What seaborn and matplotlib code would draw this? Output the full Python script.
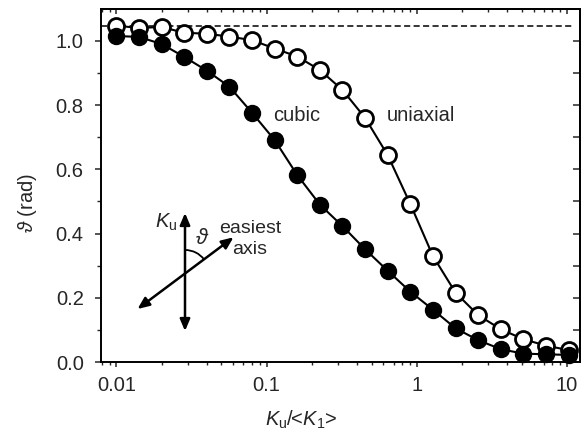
import numpy as np
import pandas as pd
import matplotlib
matplotlib.use("Agg")
import matplotlib.pyplot as plt
import matplotlib.ticker as mticker
from matplotlib.patches import Arc
from matplotlib.transforms import IdentityTransform
import seaborn as sns

# ---- data ----
ratio = [0.01, 0.01414, 0.02, 0.02828, 0.04, 0.05657, 0.08, 0.1131, 0.16, 0.2263,
         0.32, 0.4525, 0.64, 0.9051, 1.28, 1.810, 2.56, 3.620, 5.12, 7.241, 10.24]
cubic = [1.015, 1.012, 0.990, 0.950, 0.907, 0.857, 0.776, 0.691, 0.582, 0.490,
         0.423, 0.351, 0.284, 0.219, 0.163, 0.105, 0.068, 0.040, 0.026, 0.024, 0.022]
uniaxial = [1.047, 1.040, 1.043, 1.025, 1.022, 1.013, 1.002, 0.976, 0.951, 0.909,
            0.847, 0.760, 0.644, 0.492, 0.330, 0.216, 0.146, 0.102, 0.071, 0.051, 0.037]
limit_level = 1.047
limit_span = [0.0079, 11.0]
x_ticks = [0.01, 0.1, 1, 10]
x_tick_labels = ["0.01", "0.1", "1", "10"]
y_ticks = [0.0, 0.2, 0.4, 0.6, 0.8, 1.0]
y_tick_labels = ["0.0", "0.2", "0.4", "0.6", "0.8", "1.0"]

df_c = pd.DataFrame({"x": ratio, "y": cubic})
df_u = pd.DataFrame({"x": ratio, "y": uniaxial})
df_l = pd.DataFrame({"x": limit_span, "y": [limit_level] * 2})

sns.set_style("ticks")
plt.rcParams["font.family"] = ["Liberation Sans", "DejaVu Sans"]
plt.rcParams["mathtext.fontset"] = "custom"
plt.rcParams["mathtext.rm"] = "Liberation Sans"
plt.rcParams["mathtext.it"] = "Liberation Sans:italic"
plt.rcParams["mathtext.fallback"] = "stixsans"

fig = plt.figure(figsize=(5.88, 4.36), dpi=100)
ax = fig.add_axes([101 / 588, 74 / 436, 479 / 588, 353 / 436])

FS = 14.5
ms = 11.5

sns.lineplot(data=df_l, x="x", y="y", ax=ax, color="black", lw=1.1,
             dashes=False, linestyle=(0, (4, 2.2)), zorder=1)
sns.lineplot(data=df_u, x="x", y="y", ax=ax, color="black", lw=1.5,
             marker="o", markersize=ms, markerfacecolor="white",
             markeredgecolor="black", markeredgewidth=2.0, zorder=3, clip_on=False)
sns.lineplot(data=df_c, x="x", y="y", ax=ax, color="black", lw=1.5,
             marker="o", markersize=ms, markerfacecolor="black",
             markeredgecolor="black", markeredgewidth=1.0, zorder=4, clip_on=False)

ax.set_xscale("log")
ax.set_xlim(0.0079, 12.2)
ax.set_ylim(0.0, 1.099)

ax.xaxis.set_major_locator(mticker.FixedLocator(x_ticks))
ax.xaxis.set_major_formatter(mticker.FixedFormatter(x_tick_labels))
ax.xaxis.set_minor_locator(mticker.LogLocator(base=10, subs=np.arange(2, 10) * 1.0, numticks=20))
ax.xaxis.set_minor_formatter(mticker.NullFormatter())
ax.yaxis.set_major_locator(mticker.FixedLocator(y_ticks))
ax.yaxis.set_major_formatter(mticker.FixedFormatter(y_tick_labels))
ax.yaxis.set_minor_locator(mticker.MultipleLocator(0.1))

for s in ax.spines.values():
    s.set_visible(True)
    s.set_linewidth(1.4)
    s.set_color("black")

ax.tick_params(axis="x", which="major", direction="out", length=3.5, width=1.1,
               pad=6.5, labelsize=FS, top=False)
ax.tick_params(axis="x", which="minor", direction="out", length=2.5, width=1.0, top=False)
ax.tick_params(axis="y", which="major", direction="out", length=4.5, width=1.1,
               pad=8, labelsize=FS, right=False)
ax.tick_params(axis="y", which="minor", direction="out", length=3.0, width=1.0, right=False)

# mirrored inward ticks on top and right
sec_x = ax.secondary_xaxis("top")
sec_x.xaxis.set_major_locator(mticker.FixedLocator(x_ticks))
sec_x.xaxis.set_minor_locator(mticker.LogLocator(base=10, subs=np.arange(2, 10) * 1.0, numticks=20))
sec_x.tick_params(which="major", direction="in", length=3.5, width=1.1, labeltop=False)
sec_x.tick_params(which="minor", direction="in", length=2.2, width=1.0)
sec_x.spines["top"].set_linewidth(1.4)

sec_y = ax.secondary_yaxis("right")
sec_y.yaxis.set_major_locator(mticker.FixedLocator(y_ticks))
sec_y.yaxis.set_minor_locator(mticker.MultipleLocator(0.1))
sec_y.tick_params(which="major", direction="in", length=5, width=1.1, labelright=False)
sec_y.tick_params(which="minor", direction="in", length=5, width=1.1)
sec_y.spines["right"].set_linewidth(1.4)

ax.set_xlabel(r"$K_\mathrm{u}$/<$K_\mathrm{1}$>", fontsize=FS)
ax.set_ylabel(r"$\vartheta$ (rad)", fontsize=FS)
ax.xaxis.set_label_coords(0.4175, -0.133)
ax.yaxis.set_label_coords(-0.13, 0.449)

# series labels
fig.text(273, 321, "cubic", transform=IdentityTransform(), fontsize=FS, va="center", ha="left")
fig.text(387, 321, "uniaxial", transform=IdentityTransform(), fontsize=FS, va="center", ha="left")

# inset sketch (figure pixel coordinates)
arrow = dict(arrowstyle="<|-|>,head_length=0.7,head_width=0.3", color="black", lw=1.8,
             shrinkA=0, shrinkB=0)
ax.annotate("", xy=(185, 223), xytext=(185, 105), xycoords="figure pixels",
            textcoords="figure pixels", arrowprops=arrow)
ax.annotate("", xy=(233.5, 198.7), xytext=(137.5, 127), xycoords="figure pixels",
            textcoords="figure pixels", arrowprops=arrow)
arc = Arc((185, 162), 48, 48, theta1=37, theta2=90, transform=IdentityTransform(),
          color="black", lw=1.3)
fig.add_artist(arc)
fig.text(166, 214, r"$K_\mathrm{u}$", transform=IdentityTransform(), fontsize=FS,
         ha="center", va="center")
fig.text(202, 198, r"$\vartheta$", transform=IdentityTransform(), fontsize=FS + 1,
         ha="center", va="center")
fig.text(250, 197, "easiest\naxis", transform=IdentityTransform(), fontsize=FS - 0.5,
         ha="center", va="center", linespacing=1.3)

fig.savefig("out.png", dpi=100)
